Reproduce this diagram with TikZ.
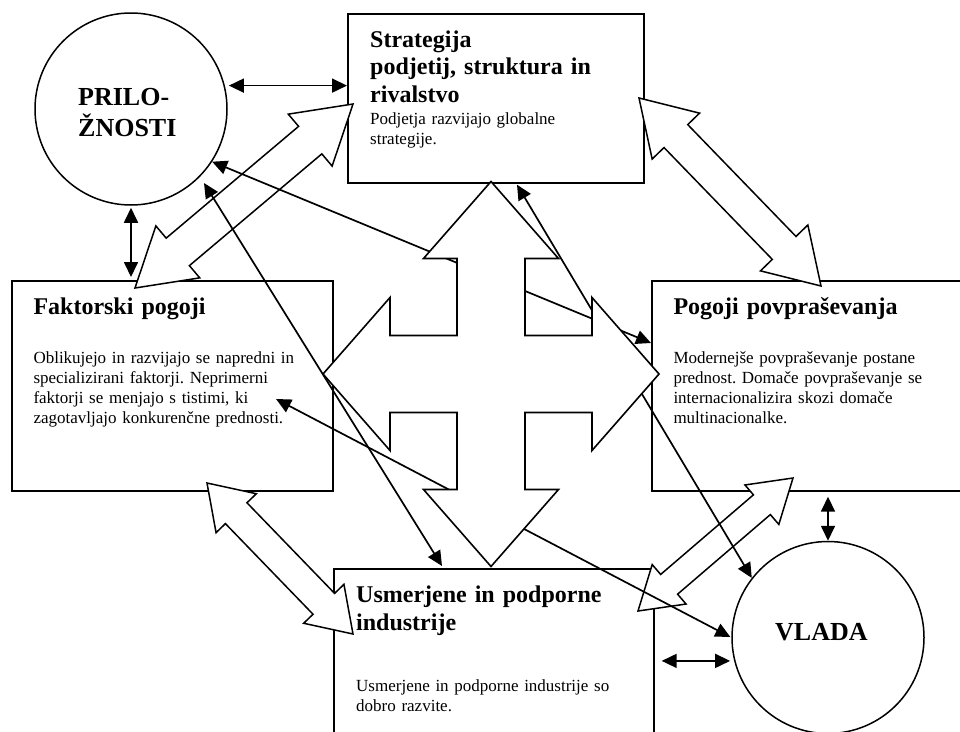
\documentclass[tikz,border=0pt]{standalone}
\usepackage{fontspec}
\setmainfont{Liberation Serif}
\usetikzlibrary{calc,arrows.meta}
\frenchspacing

% double-headed wide arrow between two points:
% #1,#2 tips, #3 head length, #4 head half-width, #5 shaft half-width
\newcommand\blockarrow[5]{%
  \draw[blockarr] (#1)
    -- ($(#1)!#3!(#2)!#4!90:(#2)$)
    -- ($(#1)!#3!(#2)!#5!90:(#2)$)
    -- ($(#2)!#3!(#1)!#5!-90:(#1)$)
    -- ($(#2)!#3!(#1)!#4!-90:(#1)$)
    -- (#2)
    -- ($(#2)!#3!(#1)!#4!90:(#1)$)
    -- ($(#2)!#3!(#1)!#5!90:(#1)$)
    -- ($(#1)!#3!(#2)!#5!-90:(#2)$)
    -- ($(#1)!#3!(#2)!#4!-90:(#2)$)
    -- cycle;}

\tikzset{
  box/.style={draw, fill=white, line width=1.7pt, rectangle, inner sep=0pt, anchor=north west},
  ring/.style={draw, fill=white, line width=1.5pt, circle, inner sep=0pt, minimum size=192pt},
  blockarr/.style={draw, fill=white, line width=1.5pt, line join=miter},
  link/.style={line width=1.7pt, {Triangle[length=15pt,width=14pt]}-{Triangle[length=15pt,width=14pt]}},
  crossarr/.style={draw, fill=white, line width=1.6pt, line join=miter},
  title/.style={anchor=base west, inner sep=0pt, align=left, text width=300pt,
    font=\fontsize{24}{27.5}\selectfont\bfseries},
  body/.style={anchor=base west, inner sep=0pt, align=left, text width=300pt,
    font=\fontsize{17}{20}\selectfont},
  bigword/.style={anchor=base west, inner sep=0pt, align=left, text width=150pt,
    font=\fontsize{26}{31.5}\selectfont\bfseries}
}

\begin{document}
\begin{tikzpicture}[x=1pt,y=-1pt]
\useasboundingbox (0,0) rectangle (960,731);

% the four determinants and the two outside factors
\node[box, minimum width=296pt, minimum height=169pt] (st) at (347,13) {};
\node[box, minimum width=321pt, minimum height=210pt] (fk) at (11,280) {};
\node[box, minimum width=320pt, minimum height=210pt] (pg) at (651,280) {};
\node[box, minimum width=320pt, minimum height=170pt] (us) at (333,568) {};
\node[ring] (pr) at (131,109) {};
\node[ring] (vl) at (828,637.5) {};

% wide arrows between neighbouring determinants
\coordinate (fk-st-1) at (135,288);  \coordinate (fk-st-2) at (353,104);
\coordinate (st-pg-1) at (639,98);   \coordinate (st-pg-2) at (821,286);
\coordinate (fk-us-1) at (207,483);  \coordinate (fk-us-2) at (353,634);
\coordinate (us-pg-1) at (638,611);  \coordinate (us-pg-2) at (793,478);
\blockarrow{fk-st-1}{fk-st-2}{56pt}{34pt}{18pt}
\blockarrow{st-pg-1}{st-pg-2}{53pt}{33pt}{16.5pt}
\blockarrow{fk-us-1}{fk-us-2}{42pt}{28pt}{15pt}
\blockarrow{us-pg-1}{us-pg-2}{41pt}{26pt}{13pt}

% influence of chance and government
\draw[link, shorten <=4pt] (pr.14) -- (pr.14 -| st.west);
\draw[link, shorten <=2pt, shorten >=3pt] (pr.south) -- (pr.south |- fk.north);
\draw[link, shorten <=5pt] (vl.north |- pg.south) -- (vl.north);
\draw[link, shorten <=7pt, shorten >=4pt] (vl.194 -| us.east) -- (vl.194);

\coordinate (pr-pg) at ($(pg.north west)+(0,63)$);
\coordinate (pr-us-a) at (204,183);
\coordinate (pr-us-b) at ($(us.north west)+(109,-2)$);
\coordinate (vl-st) at ($(st.south west)+(170,1)$);
\coordinate (vl-fk) at ($(fk.north west)+(265,119)$);
\draw[link] (pr.-33) -- (pr-pg);
\draw[link] (pr-us-a) -- (pr-us-b);
\draw[link] (vl-st) -- (vl.142);
\draw[link, shorten >=1pt] (vl-fk) -- (vl.west);

% four-way arrow in the middle
\draw[crossarr, shift={(491,374)}]
  (0,-192.5) -- (67.5,-115.5) -- (34,-115.5) -- (34,-38.5) -- (101,-38.5) -- (101,-76.5)
  -- (168,0) -- (101,76.5) -- (101,38.5) -- (34,38.5) -- (34,115.5) -- (67.5,115.5)
  -- (0,192.5) -- (-67.5,115.5) -- (-34,115.5) -- (-34,38.5) -- (-101,38.5) -- (-101,76.5)
  -- (-168,0) -- (-101,-76.5) -- (-101,-38.5) -- (-34,-38.5) -- (-34,-115.5) -- (-67.5,-115.5)
  -- cycle;

% texts
\node[title] (st-t) at ($(st.north west)+(23,34)$) {Strategija\\podjetij, struktura in\\rivalstvo};
\node[body]  (st-b) at ($(st.north west)+(23,111)$) {Podjetja razvijajo globalne\\strategije.};
\node[title] (fk-t) at ($(fk.north west)+(22.3,34)$) {Faktorski pogoji};
\node[body]  (fk-b) at ($(fk.north west)+(22.3,83)$) {Oblikujejo in razvijajo se napredni in\\specializirani faktorji. Neprimerni\\faktorji se menjajo s tistimi, ki\\zagotavljajo konkurenčne prednosti.};
\node[title] (pg-t) at ($(pg.north west)+(22.3,34)$) {Pogoji povpraševanja};
\node[body]  (pg-b) at ($(pg.north west)+(22.3,83)$) {Modernejše povpraševanje postane\\prednost. Domače povpraševanje se\\internacionalizira skozi domače\\multinacionalke.};
\node[title, font=\fontsize{24}{28}\selectfont\bfseries] (us-t) at ($(us.north west)+(23,34)$) {Usmerjene in podporne\\industrije};
\node[body]  (us-b) at ($(us.north west)+(23,123)$) {Usmerjene in podporne industrije so\\dobro razvite.};
\node[bigword] (pr-t) at (78,105) {PRILO-\\ŽNOSTI};
\node[bigword] (vl-t) at (775,640) {VLADA};
\end{tikzpicture}
\end{document}
